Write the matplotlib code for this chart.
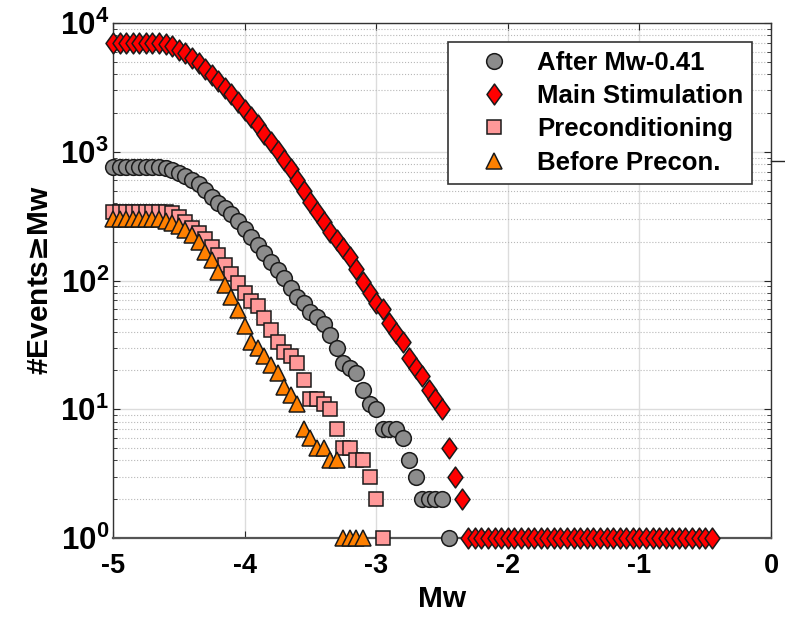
import numpy as np
import matplotlib
matplotlib.use("Agg")
import matplotlib.pyplot as plt
from matplotlib.path import Path
from matplotlib.lines import Line2D
from matplotlib.ticker import FixedLocator, FuncFormatter, LogLocator, NullFormatter

# Data: cumulative number of events >= Mw, bins every 0.05 starting at Mw = -5
mw_start = -5.0
mw_step = 0.05

after_mw041 = [760, 760, 760, 760, 760, 760, 760, 760, 745, 720,
               686, 647, 603, 558, 504, 447, 401, 363, 328, 291,
               250, 216, 189, 163, 140, 121, 104, 88, 75, 67,
               57, 52, 46, 38, 30, 23, 21, 19, 14, 11,
               10, 7, 7, 7, 6, 4, 3, 2, 2, 2,
               2, 1]

main_stimulation = [7000, 7000, 7000, 7000, 7000, 7000, 7000, 7000, 6900, 6600,
                    6200, 5800, 5300, 4850, 4400, 3950, 3550, 3150, 2800, 2450,
                    2100, 1850, 1600, 1370, 1180, 1020, 870, 730, 600, 495,
                    410, 340, 286, 239, 206, 178, 151, 122, 97, 80,
                    67, 60, 47, 39, 33, 25, 21, 18, 14, 12,
                    10, 5, 3, 2, 1, 1, 1, 1, 1, 1,
                    1, 1, 1, 1, 1, 1, 1, 1, 1, 1,
                    1, 1, 1, 1, 1, 1, 1, 1, 1, 1,
                    1, 1, 1, 1, 1, 1, 1, 1, 1, 1,
                    1, 1]

preconditioning = [340, 340, 340, 340, 340, 340, 340, 340, 340, 332,
                   313, 286, 254, 232, 209, 183, 158, 132, 112, 95,
                   80, 69, 63, 51, 41, 33, 28, 26, 23, 17,
                   12, 12, 11, 10, 7, 5, 5, 4, 4, 3,
                   2, 1]

before_precon = [300, 300, 300, 300, 300, 300, 300, 300, 291, 278,
                 265, 247, 225, 200, 167, 144, 117, 92, 75, 59,
                 44, 33, 30, 26, 22, 19, 15, 13, 11, 7,
                 6, 5, 5, 4, 4, 1, 1, 1, 1]

labels = ["After Mw-0.41", "Main Stimulation", "Preconditioning", "Before Precon."]
x_ticks = [-5, -4, -3, -2, -1, 0]
y_ticks = [1, 10, 100, 1000, 10000]


def mw_axis(n):
    """Mw bin values for the first n bins"""
    return np.round(mw_start + mw_step * np.arange(n), 2)


plt.rcParams['font.family'] = ['Liberation Sans', 'DejaVu Sans']
plt.rcParams['font.weight'] = 'bold'
plt.rcParams['axes.unicode_minus'] = False
plt.rcParams['mathtext.fontset'] = 'custom'
plt.rcParams['mathtext.rm'] = 'Liberation Sans:bold'
plt.rcParams['mathtext.bf'] = 'Liberation Sans:bold'
plt.rcParams['mathtext.it'] = 'Liberation Sans:bold'

# MATLAB-like thin diamond
diamond = Path([(0, 1), (0.72, 0), (0, -1), (-0.72, 0), (0, 1)],
               [Path.MOVETO, Path.LINETO, Path.LINETO, Path.LINETO, Path.CLOSEPOLY])

edge = '#1a1a1a'
series = [
    (after_mw041, 'o', 11.3, '#8c8c8c'),
    (main_stimulation, diamond, 15.0, '#ff0000'),
    (preconditioning, 's', 9.4, '#ff9999'),
    (before_precon, '^', 11.5, '#ff8000'),
]

fig = plt.figure(figsize=(7.85, 6.24), dpi=100)
ax = fig.add_axes([113 / 785, 1 - 538 / 624, (771 - 113) / 785, (538 - 23) / 624])

for (counts, marker, ms, color), label in zip(series, labels):
    ax.plot(mw_axis(len(counts)), counts, linestyle='none', marker=marker,
            markersize=ms, markerfacecolor=color, markeredgecolor=edge,
            markeredgewidth=1.1, label=label, clip_on=False, zorder=3)

ax.set_yscale('log')
ax.set_xlim(-5, 0)
ax.set_ylim(1, 1e4)

ax.xaxis.set_major_locator(FixedLocator(x_ticks))
ax.xaxis.set_major_formatter(FuncFormatter(lambda v, p: '%d' % round(v)))
ax.yaxis.set_major_locator(FixedLocator(y_ticks))
ax.yaxis.set_major_formatter(FuncFormatter(lambda v, p: r'$10^{%d}$' % round(np.log10(v))))
ax.yaxis.set_minor_locator(LogLocator(base=10, subs=np.arange(2, 10)))
ax.yaxis.set_minor_formatter(NullFormatter())

ax.tick_params(axis='both', which='both', direction='in', top=True, right=True,
               color='#262626')
ax.tick_params(axis='both', which='major', length=5, width=0.8)
ax.tick_params(axis='y', which='minor', length=3, width=0.6)
ax.tick_params(axis='x', which='major', labelsize=19.5, pad=11)
ax.tick_params(axis='y', which='major', labelsize=22.5, pad=3)

# grid lines
ax.grid(True, which='major', axis='both', color='#dcdcdc', linestyle='-', linewidth=1.0)
ax.grid(True, which='minor', axis='y', color='#b8b8b8', linestyle=':', linewidth=0.8)
ax.set_axisbelow(True)

for sp in ax.spines.values():
    sp.set_color('#333333')
    sp.set_linewidth(1.0)
ax.spines['bottom'].set_color('#555555')
ax.spines['bottom'].set_linewidth(1.6)

ax.set_xlabel('Mw', fontsize=21.5, fontweight='bold', labelpad=4)
# the >= sign is taken from DejaVu (underlined ">" look, as in the source)
ax.set_ylabel('#Events$\\mathbf{\u2265}$Mw', fontsize=21.5, fontweight='bold',
              labelpad=4, math_fontfamily='dejavusans')

leg = ax.legend(loc='upper right', bbox_to_anchor=(752 / 785, 1 - 42 / 624),
                bbox_transform=fig.transFigure, borderaxespad=0,
                fontsize=18.5, frameon=True, fancybox=False, framealpha=1,
                edgecolor='#333333', borderpad=0.35, handlelength=2.9,
                handletextpad=0.2, labelspacing=0.36)
leg.get_frame().set_linewidth(1.2)
for t in leg.get_texts():
    t.set_fontweight('bold')

# short stray tick right of the axes, as in the source figure
fig.add_artist(Line2D([771 / 785, 785 / 785], [1 - 161 / 624, 1 - 161 / 624],
                      color='#262626', linewidth=1.0))

fig.savefig('out.png', dpi=100)
